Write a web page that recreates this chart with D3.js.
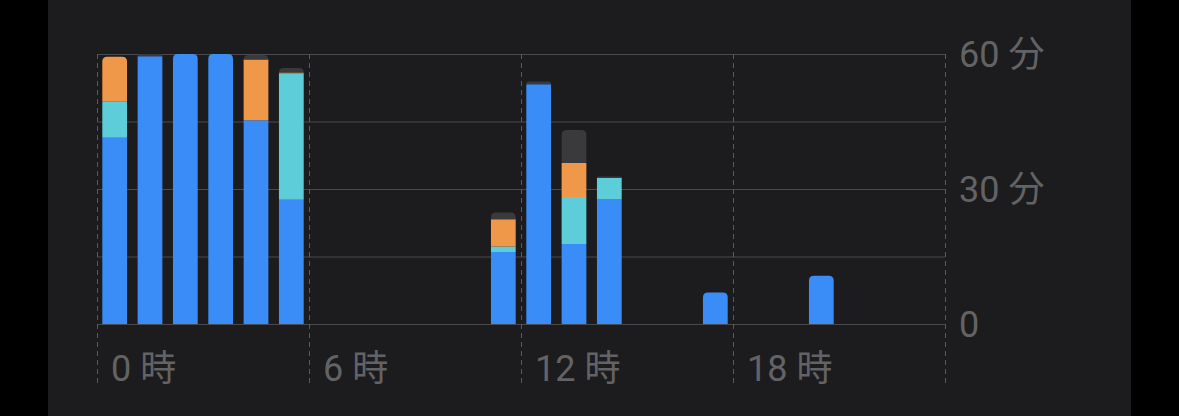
<!DOCTYPE html>
<html>
<head>
<meta charset="utf-8">
<script src="https://cdn.jsdelivr.net/npm/d3@7"></script>
<style>
  html, body { margin: 0; padding: 0; background: #000; }
  svg { display: block; }
  text { font-family: Roboto, "Noto Sans CJK JP", sans-serif; }
</style>
</head>
<body>
<svg id="chart" width="1179" height="416"></svg>
<script>
// minutes per hour
var hours = [0,1,2,3,4,5,6,7,8,9,10,11,12,13,14,15,16,17,18,19,20,21,22,23];
var blueVals   = [41.4,59.5,60,60,45.3,27.6,0,0,0,0,0,16,53.3,17.8,27.8,0,0,7,0,0,10.7,0,0,0];
var cyanVals   = [8,0,0,0,0,28,0,0,0,0,0,1.2,0,10.4,4.7,0,0,0,0,0,0,0,0,0];
var orangeVals = [10,0,0,0,13.5,0.3,0,0,0,0,0,6.1,0,7.6,0,0,0,0,0,0,0,0,0,0];
var grayVals   = [0,0.5,0,0,1,1,0,0,0,0,0,1.5,0.6,7.3,0.3,0,0,0,0,0,0,0,0,0];
var xTicks = [0,6,12,18];
var yTicks = [0,30,60];
var gridVals = [0,15,30,45,60];

var svg = d3.select('#chart');

// dark panel
svg.append('rect')
  .attr('x', 48).attr('y', 0)
  .attr('width', 1131 - 48).attr('height', 416)
  .attr('fill', '#1c1c1e');

var plotLeft = 97, plotRight = 945, plotTop = 54, plotBottom = 324;

var x = d3.scaleBand()
  .domain(hours)
  .range([plotLeft, plotRight])
  .paddingInner(0.3)
  .paddingOuter(0.15);

var y = d3.scaleLinear()
  .domain([0, 60])
  .range([plotBottom, plotTop]);

var step = x.step();

// horizontal grid
svg.append('g').selectAll('line')
  .data(gridVals).enter()
  .append('line')
  .attr('x1', plotLeft).attr('x2', plotRight)
  .attr('y1', function(d){ return y(d) + 0.5; })
  .attr('y2', function(d){ return y(d) + 0.5; })
  .attr('stroke', '#4a4a4d')
  .attr('stroke-width', 1);

// dashed verticals every 6h
svg.append('g').selectAll('line')
  .data(xTicks.concat([24])).enter()
  .append('line')
  .attr('x1', function(d){ return plotLeft + d * step + 0.5; })
  .attr('x2', function(d){ return plotLeft + d * step + 0.5; })
  .attr('y1', plotTop).attr('y2', 384)
  .attr('stroke', '#5a5a5d')
  .attr('stroke-width', 1)
  .attr('stroke-dasharray', '5,4');

// stacked bars
var table = hours.map(function(h, i){
  return { hour: h, blue: blueVals[i], cyan: cyanVals[i], orange: orangeVals[i], gray: grayVals[i] };
});
var keys = ['blue', 'cyan', 'orange', 'gray'];
var colors = { blue: '#3a8cf6', cyan: '#5dcdd9', orange: '#f0984a', gray: '#3a3a3c' };
var series = d3.stack().keys(keys)(table);

function topRounded(x0, y0, w, h, r) {
  r = Math.min(r, h, w / 2);
  return 'M' + x0 + ',' + (y0 + h) +
    'V' + (y0 + r) +
    'Q' + x0 + ',' + y0 + ' ' + (x0 + r) + ',' + y0 +
    'H' + (x0 + w - r) +
    'Q' + (x0 + w) + ',' + y0 + ' ' + (x0 + w) + ',' + (y0 + r) +
    'V' + (y0 + h) + 'Z';
}

var totals = table.map(function(d){ return d.blue + d.cyan + d.orange + d.gray; });

series.forEach(function(s){
  svg.append('g').selectAll('path')
    .data(s.filter(function(d){ return d[1] - d[0] > 0; })).enter()
    .append('path')
    .attr('fill', colors[s.key])
    .attr('d', function(d){
      var bx = x(d.data.hour), bw = x.bandwidth();
      var y0 = y(d[1]), h = y(d[0]) - y(d[1]);
      var isTop = Math.abs(d[1] - totals[d.data.hour]) < 1e-6;
      return topRounded(bx, y0, bw, h, isTop ? 5 : 0);
    });
});

// x labels
svg.append('g').selectAll('text')
  .data(xTicks).enter()
  .append('text')
  .attr('x', function(d){ return plotLeft + d * step + 14; })
  .attr('y', 381)
  .attr('fill', '#636366')
  .attr('font-size', 36)
  .text(function(d){ return d + ' 時'; });

// y labels
svg.append('g').selectAll('text')
  .data(yTicks).enter()
  .append('text')
  .attr('x', 959)
  .attr('y', function(d){ return y(d) + 13; })
  .attr('fill', '#636366')
  .attr('font-size', 36)
  .text(function(d){ return d === 0 ? '0' : d + ' 分'; });
</script>
</body>
</html>
